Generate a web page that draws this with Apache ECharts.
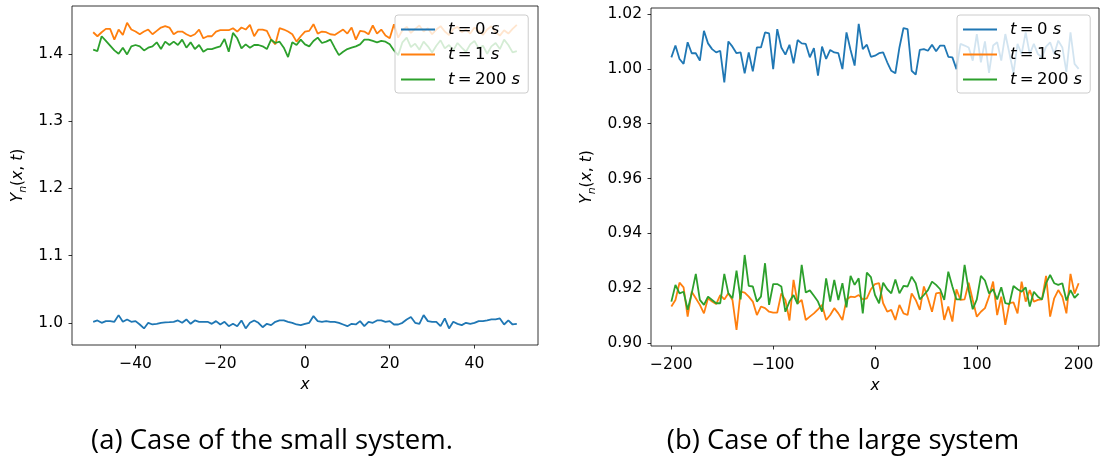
<!DOCTYPE html>
<html><head><meta charset="utf-8">
<script src="https://cdn.jsdelivr.net/npm/echarts@6/dist/echarts.min.js"></script>
<style>html,body{margin:0;padding:0;background:#fff}#c{width:1101px;height:461px}</style>
</head><body><div id="c"></div>
<script>
// ---------- data ----------
const smallStart = -50, smallStep = 1;   // x grid of small system
const largeStart = -200, largeStep = 4;  // x grid of large system

const small_t0 = [1.0015,1.0035,1.000,1.0025,1.0025,1.0015,1.0114,1.0015,1.005,1.0015,1.0025,0.9975,0.9916,1.000,0.9975,0.9985,1.000,1.0007,1.001,1.0015,1.0035,1.000,1.005,0.9985,1.0035,1.0015,1.0015,1.0015,0.9985,1.0025,0.9975,1.0015,0.995,0.9985,0.995,1.0035,0.9916,1.000,1.0035,1.000,0.9935,0.9985,0.9965,1.0015,1.0035,1.0035,1.0015,1.000,0.9975,0.9965,0.9985,1.000,1.010,1.0025,1.0015,1.0025,1.0015,1.0015,1.000,0.9975,0.995,0.9985,0.9975,1.0025,0.995,1.0015,1.000,1.0035,1.0035,1.0015,1.0025,0.9975,0.9975,1.000,1.005,1.0085,1.000,0.9985,1.0114,1.0025,1.0015,1.0015,0.995,1.0065,0.9916,1.0015,0.9985,0.9965,1.000,0.9985,1.000,1.0025,1.0025,1.0035,1.005,1.005,1.0065,0.9975,1.0035,0.9975,0.9985];
const small_t1 = [1.432,1.426,1.432,1.437,1.437,1.421,1.436,1.428,1.446,1.436,1.433,1.429,1.433,1.436,1.429,1.434,1.439,1.441,1.439,1.429,1.433,1.433,1.429,1.426,1.429,1.436,1.423,1.426,1.426,1.433,1.435,1.435,1.435,1.438,1.433,1.439,1.436,1.443,1.426,1.436,1.436,1.434,1.421,1.414,1.438,1.436,1.433,1.429,1.418,1.426,1.433,1.434,1.444,1.430,1.433,1.432,1.429,1.428,1.432,1.436,1.430,1.439,1.421,1.434,1.433,1.429,1.442,1.430,1.436,1.427,1.423,1.444,1.424,1.435,1.440,1.431,1.437,1.442,1.433,1.438,1.429,1.436,1.441,1.433,1.428,1.437,1.440,1.432,1.436,1.430,1.439,1.434,1.428,1.436,1.441,1.432,1.427,1.435,1.430,1.437,1.443];
const small_t200 = [1.406,1.404,1.426,1.419,1.412,1.405,1.400,1.409,1.399,1.411,1.413,1.411,1.405,1.409,1.411,1.417,1.407,1.418,1.413,1.418,1.413,1.421,1.409,1.417,1.407,1.413,1.403,1.407,1.407,1.409,1.411,1.422,1.403,1.431,1.423,1.408,1.414,1.409,1.413,1.413,1.411,1.407,1.421,1.416,1.418,1.409,1.395,1.417,1.413,1.421,1.414,1.411,1.419,1.424,1.416,1.418,1.421,1.409,1.398,1.403,1.407,1.409,1.411,1.414,1.421,1.421,1.419,1.417,1.419,1.418,1.414,1.405,1.398,1.417,1.424,1.410,1.415,1.406,1.418,1.411,1.402,1.412,1.420,1.408,1.413,1.405,1.416,1.409,1.403,1.414,1.419,1.408,1.412,1.400,1.411,1.416,1.407,1.421,1.413,1.402,1.404];

const large_t0 = [1.0042,1.0085,1.0036,1.0018,1.0097,1.0057,1.0057,1.0030,1.0139,1.0093,1.0072,1.0060,1.0066,0.9951,1.0100,1.0081,1.0057,1.0060,0.9984,1.0060,0.9991,1.0078,1.0078,1.0133,1.0129,0.9999,1.0145,1.0078,1.0052,1.0088,1.0020,1.0105,1.0093,1.0091,1.0042,1.0076,0.9975,1.0081,1.0036,1.0069,1.0060,1.0057,0.9999,1.0133,1.0069,1.0012,1.0164,1.0072,1.0088,1.0044,1.0048,1.0057,1.0060,1.0024,0.9993,0.9984,1.0078,1.0149,1.0145,0.9993,0.9979,1.0069,1.0072,1.0066,1.0088,1.0064,1.0085,1.0085,1.0044,1.0042,0.9999,1.0091,1.0085,1.0078,1.0030,1.0127,1.0024,1.0100,0.9985,1.0085,1.0097,1.0030,1.0127,1.0057,0.9984,1.0091,1.0054,1.0133,1.0054,1.0091,1.0054,1.0042,1.0081,1.0097,1.0054,1.0103,1.0078,0.9989,1.0133,1.0018,1.0000];
const large_t1 = [0.9133,0.9157,0.9220,0.9203,0.9096,0.9187,0.9163,0.9139,0.9108,0.9163,0.9151,0.9142,0.9175,0.9159,0.9181,0.9157,0.9048,0.9187,0.9184,0.9169,0.9151,0.9102,0.9133,0.9127,0.9114,0.9111,0.9111,0.9181,0.9157,0.9082,0.9230,0.9145,0.9157,0.9084,0.9096,0.9108,0.9123,0.9139,0.9084,0.9102,0.9127,0.9108,0.9084,0.9159,0.9169,0.9167,0.9175,0.9159,0.9163,0.9196,0.9215,0.9218,0.9145,0.9114,0.9121,0.9084,0.9139,0.9108,0.9102,0.9181,0.9157,0.9121,0.9206,0.9163,0.9114,0.9181,0.9184,0.9084,0.9133,0.9078,0.9196,0.9157,0.9159,0.9220,0.9157,0.9096,0.9114,0.9127,0.9169,0.9224,0.9102,0.9169,0.9066,0.9145,0.9148,0.9108,0.9224,0.9151,0.9193,0.9151,0.9157,0.9159,0.9245,0.9096,0.9163,0.9193,0.9169,0.9108,0.9252,0.9180,0.9218];
const large_t200 = [0.9151,0.9212,0.9181,0.9187,0.9121,0.9181,0.9252,0.9157,0.9139,0.9169,0.9157,0.9145,0.9145,0.9252,0.9181,0.9163,0.9264,0.9159,0.9321,0.9208,0.9206,0.9151,0.9169,0.9291,0.9139,0.9215,0.9215,0.9206,0.9114,0.9151,0.9175,0.9142,0.9285,0.9184,0.9192,0.9172,0.9151,0.9114,0.9236,0.9151,0.9230,0.9157,0.9218,0.9130,0.9245,0.9212,0.9236,0.9108,0.9257,0.9240,0.9175,0.9145,0.9220,0.9196,0.9181,0.9232,0.9181,0.9208,0.9206,0.9242,0.9218,0.9159,0.9175,0.9193,0.9224,0.9212,0.9196,0.9157,0.9260,0.9206,0.9159,0.9159,0.9285,0.9193,0.9123,0.9159,0.9245,0.9228,0.9181,0.9196,0.9159,0.9203,0.9145,0.9142,0.9208,0.9196,0.9187,0.9203,0.9133,0.9187,0.9169,0.9159,0.9218,0.9248,0.9218,0.9212,0.9218,0.9155,0.9193,0.9165,0.9180];

const smallXTicks = [-40,-20,0,20,40];
const smallYTicks = [1.0,1.1,1.2,1.3,1.4];
const largeXTicks = [-200,-100,0,100,200];
const largeYTicks = [0.90,0.92,0.94,0.96,0.98,1.00,1.02];
const seriesNames = ['t0','t1','t200'];
const legendLabels = {t0:'0', t1:'1', t200:'200'};
const captions = ['(a) Case of the small system.', '(b) Case of the large system'];

// ---------- helpers ----------
function pairs(start, step, vals){ return vals.map((v,i)=>[start+i*step, v]); }
const colors = ['#1f77b4','#ff7f0e','#2ca02c'];
const TF = 'DejaVu Sans';
const FS = 15.5;
const minus = v => (v<0 ? '\u2212'+Math.abs(v) : String(v));

function xAxis(idx, min, max, ticks){
  return {
    type:'value', gridIndex:idx, min, max, scale:true,
    axisLine:{show:false, onZero:false}, splitLine:{show:false},
    axisTick:{show:true, length:3.5, lineStyle:{color:'#000', width:0.8}, customValues:ticks},
    axisLabel:{customValues:ticks, formatter:minus, color:'#000', fontFamily:TF, fontSize:FS, margin:11},
    name:'{i|x}', nameLocation:'middle', nameGap:29,
    nameTextStyle:{rich:{i:{fontFamily:TF, fontStyle:'italic', fontSize:FS, color:'#000'}}}
  };
}
function yAxis(idx, min, max, ticks, dec, gap){
  return {
    type:'value', gridIndex:idx, min, max, scale:true,
    axisLine:{show:false, onZero:false}, splitLine:{show:false},
    axisTick:{show:true, length:3.5, lineStyle:{color:'#000', width:0.8}, customValues:ticks},
    axisLabel:{customValues:ticks, formatter:v=>v.toFixed(dec), color:'#000', fontFamily:TF, fontSize:FS, margin:9},
    name:'{i|Y}{s|n}{r|(}{i|x}{r|, }{i|t}{r|)}', nameLocation:'middle', nameRotate:90, nameGap:gap,
    nameTextStyle:{rich:{
      i:{fontFamily:TF, fontStyle:'italic', fontSize:FS, color:'#000', lineHeight:22},
      s:{fontFamily:TF, fontStyle:'italic', fontSize:11, color:'#000', lineHeight:22, verticalAlign:'bottom'},
      r:{fontFamily:TF, fontSize:FS, color:'#000', lineHeight:22}
    }}
  };
}
function legend(left, top){
  return {
    data:seriesNames, orient:'vertical', left, top,
    itemWidth:34, itemHeight:2, itemGap:8, icon:'rect',
    padding:[6,8,5,6],
    backgroundColor:'rgba(255,255,255,0.8)', borderColor:'#cccccc', borderWidth:1, borderRadius:3,
    formatter:n=>'{g|}{i|t}{r|\u2009=\u2009'+legendLabels[n]+' }{i|s}',
    textStyle:{color:'#000', rich:{
      g:{width:8},
      i:{fontFamily:TF, fontStyle:'italic', fontSize:16.5, color:'#000'},
      r:{fontFamily:TF, fontSize:16.5, color:'#000'}
    }}
  };
}
function lineSeries(name, xi, data, c){
  return {name, type:'line', xAxisIndex:xi, yAxisIndex:xi, data, showSymbol:false, symbol:'none',
    lineStyle:{color:c, width:1.8}, itemStyle:{color:c}, z:2};
}

const chart = echarts.init(document.getElementById('c'), null, {renderer:'canvas'});
chart.setOption({
  animation:false,
  backgroundColor:'#fff',
  grid:[
    {left:72, top:6, width:466, height:339, show:true, borderColor:'#000', borderWidth:0.8, containLabel:false},
    {left:651, top:8, width:448, height:338, show:true, borderColor:'#000', borderWidth:0.8, containLabel:false}
  ],
  xAxis:[ xAxis(0,-55,55,smallXTicks), xAxis(1,-220,220,largeXTicks) ],
  yAxis:[ yAxis(0,0.967,1.471,smallYTicks,1,43), yAxis(1,0.8989,1.0222,largeYTicks,2,53) ],
  legend:[ legend(395,15), legend(957,15) ],
  series:[
    lineSeries('t0',0,pairs(smallStart,smallStep,small_t0),colors[0]),
    lineSeries('t1',0,pairs(smallStart,smallStep,small_t1),colors[1]),
    lineSeries('t200',0,pairs(smallStart,smallStep,small_t200),colors[2]),
    lineSeries('t0',1,pairs(largeStart,largeStep,large_t0),colors[0]),
    lineSeries('t1',1,pairs(largeStart,largeStep,large_t1),colors[1]),
    lineSeries('t200',1,pairs(largeStart,largeStep,large_t200),colors[2])
  ],
  graphic:[
    {type:'text', x:272, y:441, style:{text:captions[0], font:'27.5px "Open Sans"', fill:'#000', textAlign:'center', textVerticalAlign:'middle'}},
    {type:'text', x:843, y:441, style:{text:captions[1], font:'27.5px "Open Sans"', fill:'#000', textAlign:'center', textVerticalAlign:'middle'}}
  ]
});
</script>
</body></html>
